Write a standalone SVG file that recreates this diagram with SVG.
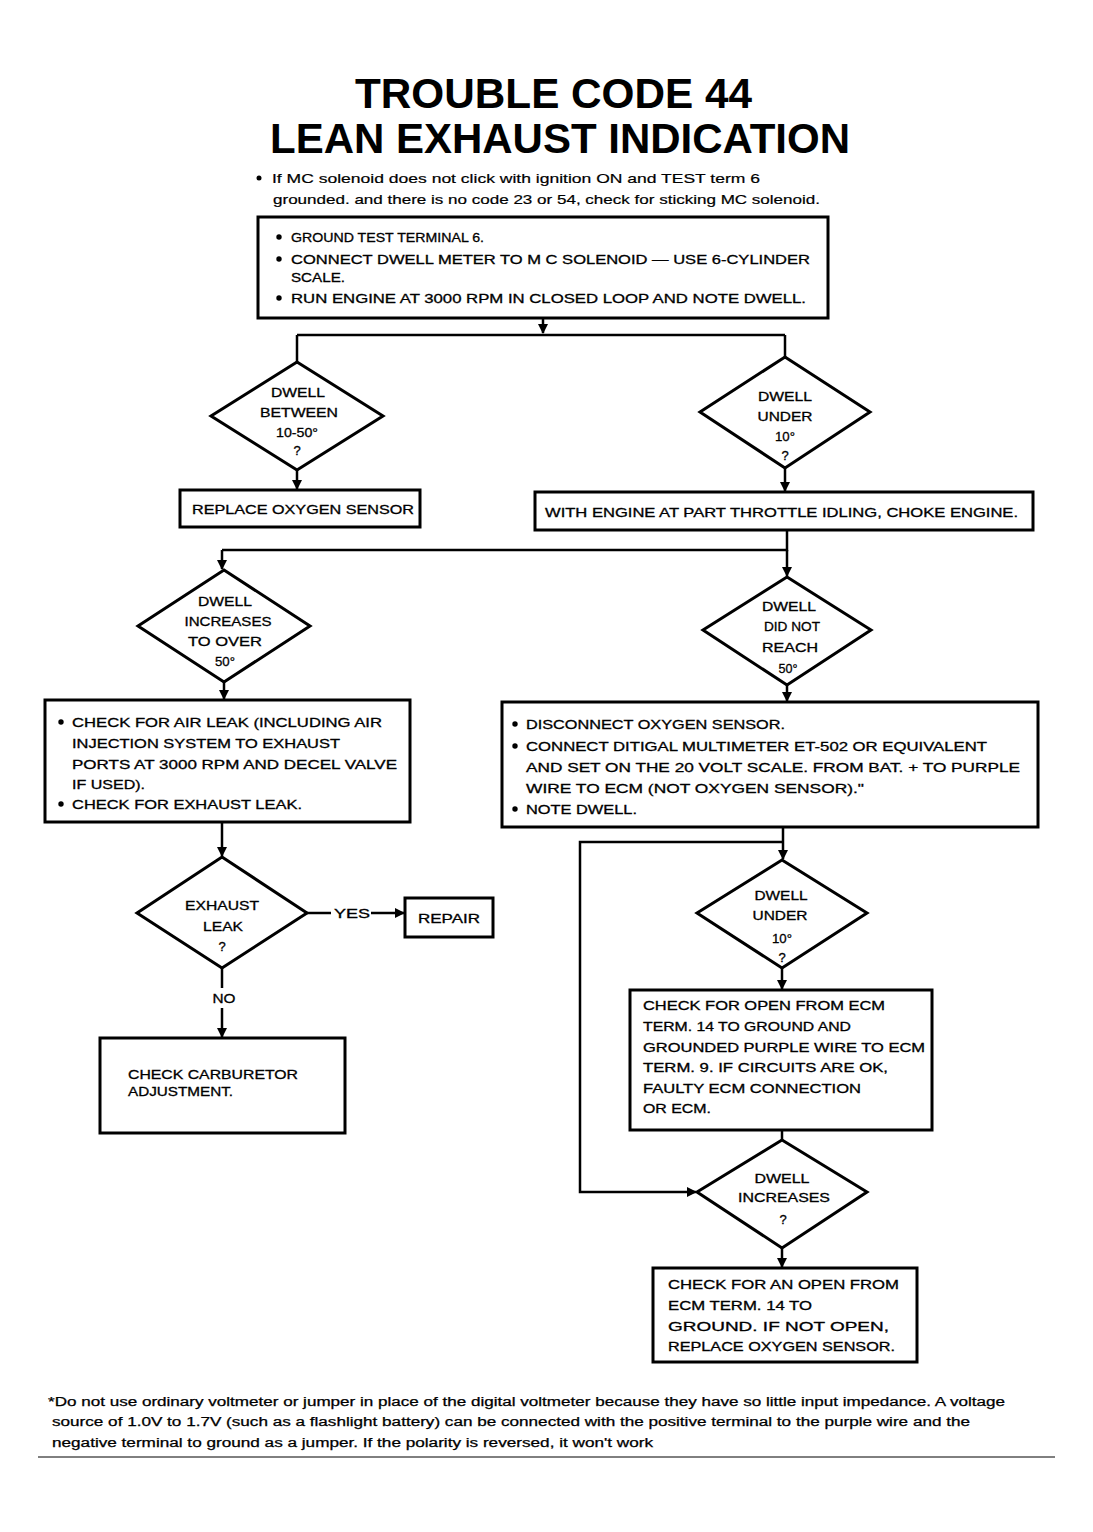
<svg xmlns="http://www.w3.org/2000/svg" width="1093" height="1532" viewBox="0 0 1093 1532">
<style>
  text{font-family:"Liberation Sans",Arial,sans-serif;fill:#000}
  .t{font-size:13px;stroke:#000;stroke-width:0.3}
  .n{font-size:13px;stroke:#000;stroke-width:0.2}
  .f{font-size:12px;stroke:#000;stroke-width:0.25}
  .title{font-size:42px;font-weight:bold}
  .m{text-anchor:middle}
  .box{fill:#fff;stroke:#000;stroke-width:3}
  .dia{fill:#fff;stroke:#000;stroke-width:3;stroke-linejoin:miter}
  .c{fill:none;stroke:#000;stroke-width:2.5}
</style>
<defs>
  <marker id="ah" viewBox="0 0 10 10" refX="9" refY="5" markerWidth="4" markerHeight="4.4" orient="auto" markerUnits="strokeWidth">
    <path d="M0,0 L10,5 L0,10 Z" fill="#000"/>
  </marker>
</defs>
<rect x="0" y="0" width="1093" height="1532" fill="#fff"/>

<g id="title">
  <text class="title" x="355" y="108" textLength="397" lengthAdjust="spacingAndGlyphs">TROUBLE CODE 44</text>
  <text class="title" x="270" y="153" textLength="580" lengthAdjust="spacingAndGlyphs">LEAN EXHAUST INDICATION</text>
</g>

<g id="note">
  <circle cx="259" cy="178" r="2.5"/>
  <text class="n" x="272" y="183" textLength="488" lengthAdjust="spacingAndGlyphs">If MC solenoid does not click with ignition ON and TEST term 6</text>
  <text class="n" x="273" y="204" textLength="547" lengthAdjust="spacingAndGlyphs">grounded. and there is no code 23 or 54, check for sticking MC solenoid.</text>
</g>

<g id="connectors">
  <path class="c" d="M543,318 V333" marker-end="url(#ah)"/>
  <path class="c" d="M297,335 H785"/>
  <path class="c" d="M297,335 V362"/>
  <path class="c" d="M785,335 V357"/>
  <path class="c" d="M297,470 V489" marker-end="url(#ah)"/>
  <path class="c" d="M785,468 V491" marker-end="url(#ah)"/>
  <path class="c" d="M787,530 V550 H222"/>
  <path class="c" d="M222,550 V569" marker-end="url(#ah)"/>
  <path class="c" d="M787,550 V576" marker-end="url(#ah)"/>
  <path class="c" d="M224,682 V699" marker-end="url(#ah)"/>
  <path class="c" d="M787,685 V701" marker-end="url(#ah)"/>
  <path class="c" d="M222,822 V856" marker-end="url(#ah)"/>
  <path class="c" d="M307,913 H331"/>
  <path class="c" d="M371,913 H404" marker-end="url(#ah)"/>
  <path class="c" d="M222,968 V988"/>
  <path class="c" d="M222,1008 V1037" marker-end="url(#ah)"/>
  <path class="c" d="M783,827 V859" marker-end="url(#ah)"/>
  <path class="c" d="M783,842 H580 V1192 H696" marker-end="url(#ah)"/>
  <path class="c" d="M782,968 V989" marker-end="url(#ah)"/>
  <path class="c" d="M782,1130 V1140"/>
  <path class="c" d="M782,1248 V1267" marker-end="url(#ah)"/>
  <text class="t m" x="352" y="918" textLength="36" lengthAdjust="spacingAndGlyphs">YES</text>
  <text class="t m" x="224" y="1003" textLength="23" lengthAdjust="spacingAndGlyphs">NO</text>
</g>

<g id="box1">
  <rect class="box" x="258" y="217" width="570" height="101"/>
  <circle cx="279" cy="237" r="2.7"/>
  <circle cx="279" cy="259" r="2.7"/>
  <circle cx="279" cy="298" r="2.7"/>
  <text class="t" x="291" y="242" textLength="193" lengthAdjust="spacingAndGlyphs">GROUND TEST TERMINAL 6.</text>
  <text class="t" x="291" y="264" textLength="519" lengthAdjust="spacingAndGlyphs">CONNECT DWELL METER TO M C SOLENOID — USE 6-CYLINDER</text>
  <text class="t" x="291" y="282" textLength="54" lengthAdjust="spacingAndGlyphs">SCALE.</text>
  <text class="t" x="291" y="303" textLength="515" lengthAdjust="spacingAndGlyphs">RUN ENGINE AT 3000 RPM IN CLOSED LOOP AND NOTE DWELL.</text>
</g>

<g id="dia1">
  <polygon class="dia" points="297,362 383,416 297,470 211,416"/>
  <text class="t m" x="298" y="397" textLength="54" lengthAdjust="spacingAndGlyphs">DWELL</text>
  <text class="t m" x="299" y="417" textLength="78" lengthAdjust="spacingAndGlyphs">BETWEEN</text>
  <text class="t m" x="297" y="437" textLength="42" lengthAdjust="spacingAndGlyphs">10-50°</text>
  <text class="t m" x="297" y="455">?</text>
</g>

<g id="dia2">
  <polygon class="dia" points="785,357 870,412 785,468 700,412"/>
  <text class="t m" x="785" y="401" textLength="54" lengthAdjust="spacingAndGlyphs">DWELL</text>
  <text class="t m" x="785" y="421" textLength="55" lengthAdjust="spacingAndGlyphs">UNDER</text>
  <text class="t m" x="785" y="441" textLength="20" lengthAdjust="spacingAndGlyphs">10°</text>
  <text class="t m" x="785" y="460">?</text>
</g>

<g id="box-replace">
  <rect class="box" x="180" y="490" width="240" height="37"/>
  <text class="t" x="192" y="514" textLength="222" lengthAdjust="spacingAndGlyphs">REPLACE OXYGEN SENSOR</text>
</g>

<g id="box-choke">
  <rect class="box" x="535" y="492" width="498" height="38"/>
  <text class="t" x="545" y="517" textLength="473" lengthAdjust="spacingAndGlyphs">WITH ENGINE AT PART THROTTLE IDLING, CHOKE ENGINE.</text>
</g>

<g id="dia3">
  <polygon class="dia" points="224,570 310,626 224,682 138,626"/>
  <text class="t m" x="225" y="606" textLength="54" lengthAdjust="spacingAndGlyphs">DWELL</text>
  <text class="t m" x="228" y="626" textLength="87" lengthAdjust="spacingAndGlyphs">INCREASES</text>
  <text class="t m" x="225" y="646" textLength="74" lengthAdjust="spacingAndGlyphs">TO OVER</text>
  <text class="t m" x="225" y="666" textLength="20" lengthAdjust="spacingAndGlyphs">50°</text>
</g>

<g id="dia4">
  <polygon class="dia" points="787,577 871,630 787,685 703,630"/>
  <text class="t m" x="789" y="611" textLength="54" lengthAdjust="spacingAndGlyphs">DWELL</text>
  <text class="t m" x="792" y="631" textLength="56" lengthAdjust="spacingAndGlyphs">DID NOT</text>
  <text class="t m" x="790" y="652" textLength="56" lengthAdjust="spacingAndGlyphs">REACH</text>
  <text class="t m" x="788" y="673" textLength="19" lengthAdjust="spacingAndGlyphs">50°</text>
</g>

<g id="box-airleak">
  <rect class="box" x="45" y="700" width="365" height="122"/>
  <circle cx="61" cy="722" r="2.7"/>
  <circle cx="61" cy="804" r="2.7"/>
  <text class="t" x="72" y="727" textLength="310" lengthAdjust="spacingAndGlyphs">CHECK FOR AIR LEAK (INCLUDING AIR</text>
  <text class="t" x="72" y="748" textLength="268" lengthAdjust="spacingAndGlyphs">INJECTION SYSTEM TO EXHAUST</text>
  <text class="t" x="72" y="769" textLength="325" lengthAdjust="spacingAndGlyphs">PORTS AT 3000 RPM AND DECEL VALVE</text>
  <text class="t" x="72" y="789" textLength="73" lengthAdjust="spacingAndGlyphs">IF USED).</text>
  <text class="t" x="72" y="809" textLength="230" lengthAdjust="spacingAndGlyphs">CHECK FOR EXHAUST LEAK.</text>
</g>

<g id="box-disconnect">
  <rect class="box" x="502" y="702" width="536" height="125"/>
  <circle cx="515" cy="724" r="2.7"/>
  <circle cx="515" cy="746" r="2.7"/>
  <circle cx="515" cy="809" r="2.7"/>
  <text class="t" x="526" y="729" textLength="259" lengthAdjust="spacingAndGlyphs">DISCONNECT OXYGEN SENSOR.</text>
  <text class="t" x="526" y="751" textLength="461" lengthAdjust="spacingAndGlyphs">CONNECT DITIGAL MULTIMETER ET-502 OR EQUIVALENT</text>
  <text class="t" x="526" y="772" textLength="494" lengthAdjust="spacingAndGlyphs">AND SET ON THE 20 VOLT SCALE. FROM BAT. + TO PURPLE</text>
  <text class="t" x="526" y="793" textLength="338" lengthAdjust="spacingAndGlyphs">WIRE TO ECM (NOT OXYGEN SENSOR)."</text>
  <text class="t" x="526" y="814" textLength="111" lengthAdjust="spacingAndGlyphs">NOTE DWELL.</text>
</g>

<g id="dia5">
  <polygon class="dia" points="222,857 307,913 222,968 137,913"/>
  <text class="t m" x="222" y="910" textLength="74" lengthAdjust="spacingAndGlyphs">EXHAUST</text>
  <text class="t m" x="223" y="931" textLength="40" lengthAdjust="spacingAndGlyphs">LEAK</text>
  <text class="t m" x="222" y="951">?</text>
</g>

<g id="box-repair">
  <rect class="box" x="405" y="898" width="88" height="39"/>
  <text class="t" x="418" y="923" textLength="62" lengthAdjust="spacingAndGlyphs">REPAIR</text>
</g>

<g id="box-carb">
  <rect class="box" x="100" y="1038" width="245" height="95"/>
  <text class="t" x="128" y="1079" textLength="170" lengthAdjust="spacingAndGlyphs">CHECK  CARBURETOR</text>
  <text class="t" x="128" y="1096" textLength="105" lengthAdjust="spacingAndGlyphs">ADJUSTMENT.</text>
</g>

<g id="dia6">
  <polygon class="dia" points="782,860 867,913 782,968 697,913"/>
  <text class="t m" x="781" y="900" textLength="53" lengthAdjust="spacingAndGlyphs">DWELL</text>
  <text class="t m" x="780" y="920" textLength="55" lengthAdjust="spacingAndGlyphs">UNDER</text>
  <text class="t m" x="782" y="943" textLength="20" lengthAdjust="spacingAndGlyphs">10°</text>
  <text class="t m" x="782" y="962">?</text>
</g>

<g id="box-open1">
  <rect class="box" x="630" y="990" width="302" height="140"/>
  <text class="t" x="643" y="1010" textLength="242" lengthAdjust="spacingAndGlyphs">CHECK FOR OPEN FROM ECM</text>
  <text class="t" x="643" y="1031" textLength="208" lengthAdjust="spacingAndGlyphs">TERM. 14 TO GROUND AND</text>
  <text class="t" x="643" y="1052" textLength="282" lengthAdjust="spacingAndGlyphs">GROUNDED PURPLE WIRE TO ECM</text>
  <text class="t" x="643" y="1072" textLength="245" lengthAdjust="spacingAndGlyphs">TERM. 9. IF CIRCUITS ARE OK,</text>
  <text class="t" x="643" y="1093" textLength="218" lengthAdjust="spacingAndGlyphs">FAULTY ECM CONNECTION</text>
  <text class="t" x="643" y="1113" textLength="68" lengthAdjust="spacingAndGlyphs">OR ECM.</text>
</g>

<g id="dia7">
  <polygon class="dia" points="782,1140 867,1192 782,1248 697,1192"/>
  <text class="t m" x="782" y="1183" textLength="55" lengthAdjust="spacingAndGlyphs">DWELL</text>
  <text class="t m" x="784" y="1202" textLength="92" lengthAdjust="spacingAndGlyphs">INCREASES</text>
  <text class="t m" x="783" y="1224">?</text>
</g>

<g id="box-open2">
  <rect class="box" x="653" y="1268" width="264" height="94"/>
  <text class="t" x="668" y="1289" textLength="231" lengthAdjust="spacingAndGlyphs">CHECK FOR AN OPEN FROM</text>
  <text class="t" x="668" y="1310" textLength="144" lengthAdjust="spacingAndGlyphs">ECM TERM. 14 TO</text>
  <text class="t" x="668" y="1331" textLength="221" lengthAdjust="spacingAndGlyphs">GROUND. IF NOT OPEN,</text>
  <text class="t" x="668" y="1351" textLength="227" lengthAdjust="spacingAndGlyphs">REPLACE OXYGEN SENSOR.</text>
</g>

<g id="footnote">
  <text class="f" x="48" y="1406" textLength="957" lengthAdjust="spacingAndGlyphs">*Do not use ordinary voltmeter or jumper in place of the digital voltmeter because they have so little input impedance. A voltage</text>
  <text class="f" x="52" y="1426" textLength="918" lengthAdjust="spacingAndGlyphs">source of 1.0V to 1.7V (such as a flashlight battery) can be connected with the positive terminal to the purple wire and the</text>
  <text class="f" x="52" y="1447" textLength="601" lengthAdjust="spacingAndGlyphs">negative terminal to ground as a jumper. If the polarity is reversed, it won't work</text>
  <line x1="38" y1="1457" x2="1055" y2="1457" stroke="#000" stroke-width="1"/>
</g>
</svg>
